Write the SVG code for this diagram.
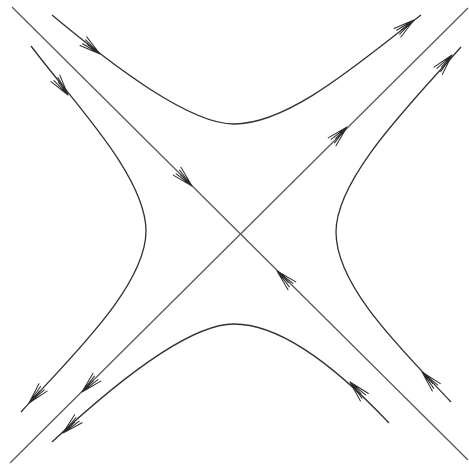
<svg xmlns="http://www.w3.org/2000/svg" width="469" height="465" viewBox="0 0 469 465">
  <style>
    .axis { fill: none; stroke: #5a5a5a; stroke-width: 1.3; }
    .orbit { fill: none; stroke: #303030; stroke-width: 1.3; }
    .head { fill: none; stroke: #2a2a2a; stroke-width: 1; stroke-linecap: round; }
  </style>
  <defs>
    <path id="ah" class="head" d="M0,0 L-21,-5.5 M0,0 L-21,5.5 M0,0 L-20,-2.5 M0,0 L-20,2.5 M0,0 L-16,0"/>
  </defs>
  <rect width="469" height="465" fill="#ffffff"/>
  <g id="connectors">
    <g id="stable-line">
      <path class="axis" d="M12,7 L468,460"/>
      <use href="#ah" transform="translate(192,186) rotate(44.8)"/>
      <use href="#ah" transform="translate(277,271) rotate(224.8)"/>
    </g>
    <g id="unstable-line">
      <path class="axis" d="M10,463 L468,8"/>
      <use href="#ah" transform="translate(347,127) rotate(-44.8)"/>
      <use href="#ah" transform="translate(82,392) rotate(135.2)"/>
    </g>
    <g id="orbit-top">
      <path class="orbit" d="M52,15 C115,67.5 190,124 234,124 C289,124 357.8,63.8 421,15"/>
      <use href="#ah" transform="translate(100,54) rotate(37.6)"/>
      <use href="#ah" transform="translate(414,20) rotate(-37.7)"/>
    </g>
    <g id="orbit-left">
      <path class="orbit" d="M31,46 C73,102 146,176 146,231 C146,286 71,356.5 21,412"/>
      <use href="#ah" transform="translate(68,95) rotate(53)"/>
      <use href="#ah" transform="translate(29,403) rotate(132)"/>
    </g>
    <g id="orbit-right">
      <path class="orbit" d="M461,47 C414.8,99.5 336,177 336,232 C336,287 403.4,351 451,402"/>
      <use href="#ah" transform="translate(452,55) rotate(-48.7)"/>
      <use href="#ah" transform="translate(422,372) rotate(227)"/>
    </g>
    <g id="orbit-bottom">
      <path class="orbit" d="M52,442 C103,394.4 184,324 234,324 C284,324 340.7,371.9 389,423"/>
      <use href="#ah" transform="translate(63,433) rotate(137)"/>
      <use href="#ah" transform="translate(350,382) rotate(226.6)"/>
    </g>
  </g>
</svg>
